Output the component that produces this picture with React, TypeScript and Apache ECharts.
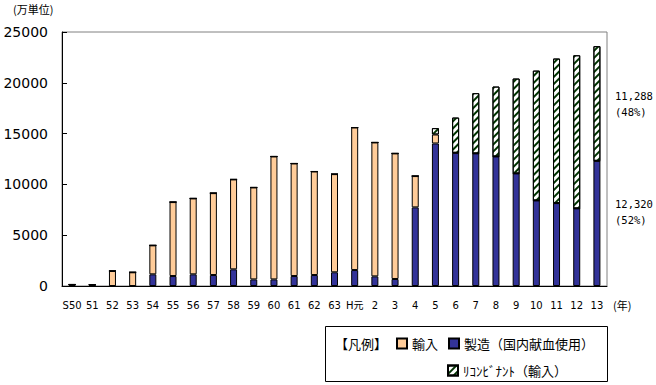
import React, { useEffect, useRef } from "react";
import * as echarts from "echarts";

const categories = ["S50", "51", "52", "53", "54", "55", "56", "57", "58", "59", "60", "61", "62", "63", "H元", "2", "3", "4", "5", "6", "7", "8", "9", "10", "11", "12", "13"];
// 製造（国内献血使用）
const manufacture = [50, 50, 0, 0, 1150, 980, 1150, 1080, 1640, 650, 650, 980, 1080, 1350, 1570, 950, 690, 7740, 14030, 13110, 13050, 12750, 11080, 8420, 8160, 7640, 12320];
// 輸入
const imports = [100, 80, 1480, 1350, 2850, 7280, 7470, 8060, 8850, 9050, 12100, 11080, 10190, 9660, 14030, 13180, 12360, 3080, 880, 0, 0, 0, 0, 0, 0, 0, 0];
// リコンビナント（輸入）
const recombinant = [0, 0, 0, 0, 0, 0, 0, 0, 0, 0, 0, 0, 0, 0, 0, 0, 0, 0, 630, 3470, 5930, 6880, 9340, 12780, 14230, 15070, 11288];

const seriesNames = ["製造（国内献血使用）", "輸入", "ﾘｺﾝﾋﾞﾅﾝﾄ（輸入）"];
const noteTexts = ["11,288", "(48%)", "12,320", "(52%)"];

export default function App() {
  const ref = useRef<HTMLDivElement>(null);
  useEffect(() => {
    const chart = echarts.init(ref.current!, null, { renderer: "svg" });
    const border = { borderColor: "#000", borderWidth: 1 };
    const mono = "'DejaVu Sans Mono', monospace";
    const cjk = "'Noto Sans CJK JP', sans-serif";
    chart.setOption({
      animation: false,
      backgroundColor: "#fff",
      grid: { left: 62, right: 49, top: 32, bottom: 99, show: true, borderColor: "#808080", borderWidth: 1 },
      xAxis: {
        type: "category",
        data: categories,
        axisLine: { lineStyle: { color: "#000", width: 1 } },
        axisTick: { inside: true, length: 4, lineStyle: { color: "#000" } },
        axisLabel: { interval: 0, color: "#000", fontSize: 10, margin: 14, fontFamily: "'DejaVu Sans', 'Noto Sans CJK JP', sans-serif" },
      },
      yAxis: {
        type: "value",
        min: 0,
        max: 25000,
        interval: 5000,
        axisLine: { show: true, lineStyle: { color: "#000", width: 1 } },
        axisTick: { show: true, inside: true, length: 5, lineStyle: { color: "#000" } },
        splitLine: { show: false },
        axisLabel: { color: "#000", fontSize: 14, margin: 14, fontFamily: "'DejaVu Sans', sans-serif", formatter: (v: number) => String(v) },
      },
      legend: [
        {
          data: [seriesNames[1], seriesNames[0]],
          left: 396,
          top: 337,
          padding: 0,
          itemWidth: 10,
          itemHeight: 10,
          itemGap: 10,
          icon: "rect",
          selectedMode: false,
          textStyle: { fontSize: 13, color: "#000", fontFamily: cjk },
        },
        {
          data: [seriesNames[2]],
          left: 447,
          top: 364,
          padding: 0,
          itemWidth: 10,
          itemHeight: 10,
          icon: "rect",
          selectedMode: false,
          textStyle: { fontSize: 13, color: "#000", fontFamily: cjk },
        },
      ],
      graphic: [
        { type: "rect", shape: { x: 325.5, y: 326.5, width: 282, height: 55 }, style: { fill: "none", stroke: "#000", lineWidth: 1 } },
        { type: "text", x: 335, y: 343, style: { text: "【凡例】", fontSize: 13, fill: "#000", fontFamily: cjk, verticalAlign: "middle" } },
        { type: "text", x: 13, y: 9, style: { text: "(万単位)", fontSize: 11, fill: "#000", fontFamily: cjk, verticalAlign: "middle" } },
        { type: "text", x: 613, y: 305, style: { text: "(年)", fontSize: 11, fill: "#000", fontFamily: cjk, verticalAlign: "middle" } },
        { type: "text", x: 615, y: 96, style: { text: noteTexts[0], fontSize: 10.5, fill: "#000", fontFamily: mono, verticalAlign: "middle" } },
        { type: "text", x: 615, y: 112, style: { text: noteTexts[1], fontSize: 10.5, fill: "#000", fontFamily: mono, verticalAlign: "middle" } },
        { type: "text", x: 615, y: 204, style: { text: noteTexts[2], fontSize: 10.5, fill: "#000", fontFamily: mono, verticalAlign: "middle" } },
        { type: "text", x: 615, y: 220, style: { text: noteTexts[3], fontSize: 10.5, fill: "#000", fontFamily: mono, verticalAlign: "middle" } },
      ],
      series: [
        { name: seriesNames[0], type: "bar", stack: "total", barWidth: 7, data: manufacture, itemStyle: { color: "#333399", ...border } },
        { name: seriesNames[1], type: "bar", stack: "total", barWidth: 7, data: imports, itemStyle: { color: "#FFCC99", ...border } },
        {
          name: seriesNames[2],
          type: "bar",
          stack: "total",
          barWidth: 7,
          data: recombinant,
          itemStyle: {
            color: "#ffffff",
            ...border,
            decal: {
              symbol: "rect",
              symbolSize: 1,
              dashArrayX: [1, 0],
              dashArrayY: [2, 3],
              rotation: -Math.PI / 4,
              color: "#003300",
              backgroundColor: "#ffffff",
            },
          },
        },
      ],
    });
    return () => chart.dispose();
  }, []);
  return <div ref={ref} style={{ position: "fixed", left: 0, top: 0, width: 656, height: 385, background: "#fff" }} />;
}
